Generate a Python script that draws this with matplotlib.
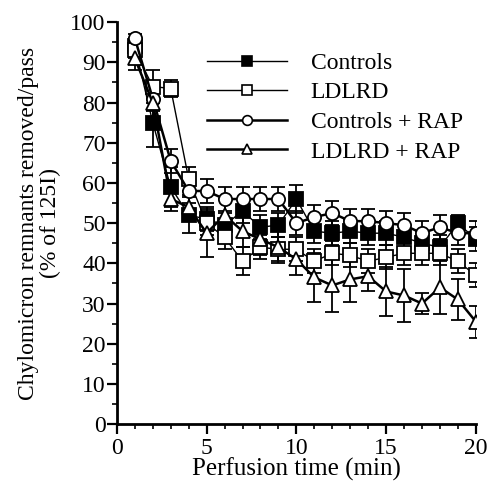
"""Chylomicron remnant removal per pass over perfusion time (4 groups)."""
import matplotlib
matplotlib.use("Agg")
import matplotlib.pyplot as plt
from matplotlib.lines import Line2D
from matplotlib.ticker import MultipleLocator

plt.rcParams["font.family"] = ["Liberation Serif", "DejaVu Serif"]

time_min = list(range(1, 21))

controls = [94, 75, 59, 52, 51, 49.5, 53, 49, 49.5, 56,
            48, 47.5, 48, 47.5, 47.5, 46.5, 45, 44, 50, 46]
controls_err = [2, 6, 5, 4.5, 3, 3, 3, 3, 3, 3.5,
                3, 3, 3, 3, 3, 3, 3, 3, 2, 3]

ldlrd = [93, 84, 83.5, 61, 50, 46.5, 40.5, 44, 43.5, 43.5,
         40.5, 42.5, 42, 40.5, 41.5, 42.5, 42.5, 42.5, 40.5, 37]
ldlrd_err = [2, 4, 2, 3, 3, 3, 3.5, 3, 3, 3,
             3, 3, 3, 3, 3, 3, 3, 3, 3, 3]

controls_rap = [96, 81, 65.5, 58, 58, 56, 56, 56, 56, 50,
                51.5, 52.5, 50.5, 50.5, 50, 49.5, 47.5, 49, 47.5, 47.5]
controls_rap_err = [1, 3, 3, 3, 3, 3, 3, 3, 3, 3,
                    3, 3, 3, 3, 3, 3, 3, 3, 3, 3]

ldlrd_rap = [91, 80, 56, 54, 47.5, 52, 48, 46, 44, 41,
             36.5, 34.5, 36, 36.8, 33, 32, 30, 34, 31, 25.5]
ldlrd_rap_err = [3, 4, 3, 3, 6, 4, 4, 4, 4, 4,
                 6, 6.5, 5.5, 3.7, 6, 6.5, 2.5, 6.5, 5, 4]

series = [
    ("Controls", controls, controls_err, "s", "black", 1.0),
    ("LDLRD", ldlrd, ldlrd_err, "s", "white", 1.0),
    ("Controls + RAP", controls_rap, controls_rap_err, "o", "white", 1.8),
    ("LDLRD + RAP", ldlrd_rap, ldlrd_rap_err, "^", "white", 1.8),
]

fig = plt.figure(figsize=(4.87, 4.83), dpi=100)
ax = fig.add_axes([0.240, 0.122, 0.737, 0.832])

handles = []
for label, y, err, marker, face, lw in series:
    ax.errorbar(time_min, y, yerr=err, fmt="-", marker=marker,
                color="black", mfc=face, mec="black", mew=1.3, ms=9.5,
                lw=lw, elinewidth=1.3, capsize=5, capthick=1.3)
    handles.append(Line2D([], [], color="black", lw=lw, marker=marker,
                          mfc=face, mec="black", mew=1.2, ms=7, label=label))

ax.set_xlim(0, 20)
ax.set_ylim(0, 100)
ax.xaxis.set_major_locator(MultipleLocator(5))
ax.xaxis.set_minor_locator(MultipleLocator(1))
ax.yaxis.set_major_locator(MultipleLocator(10))
ax.yaxis.set_minor_locator(MultipleLocator(5))
ax.tick_params(which="major", direction="out", length=7, width=1.6,
               labelsize=17, pad=1)
ax.tick_params(axis="x", which="major", pad=3)
ax.tick_params(which="minor", direction="out", length=3.5, width=1.2)

for side in ("top", "right"):
    ax.spines[side].set_visible(False)
for side in ("left", "bottom"):
    ax.spines[side].set_linewidth(2.0)

ax.set_xlabel("Perfusion time (min)", fontsize=18, labelpad=-1)
ax.set_ylabel("Chylomicron remnants removed/pass\n(% of 125I)",
              fontsize=17, labelpad=7, linespacing=1.05)

ax.legend(handles=handles, loc="upper left",
          bbox_to_anchor=(0.251, 0.925), frameon=False, fontsize=17,
          handlelength=3.4, handletextpad=1.0, labelspacing=0.34,
          borderaxespad=0, borderpad=0)

fig.savefig("out.png", dpi=100)
